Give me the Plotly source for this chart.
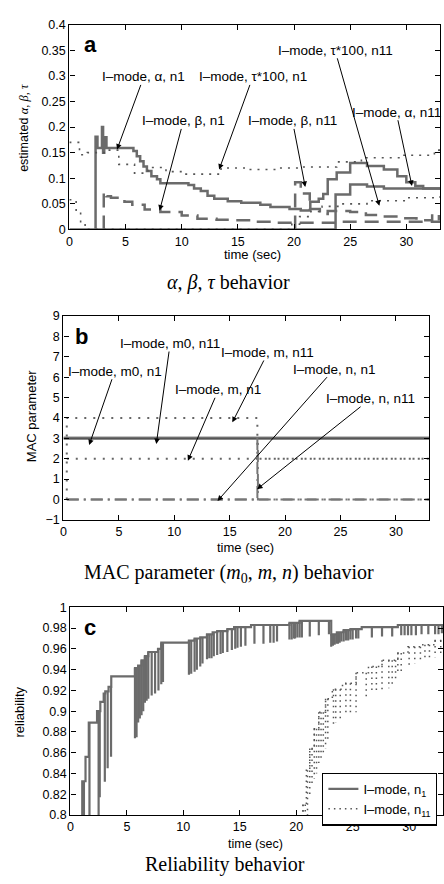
import plotly.graph_objects as go

# ---------------- data : panel a ----------------
alpha_n1_t = [2.33, 2.33, 2.5, 2.9, 3.0, 3.1, 3.3, 5.7, 6.0, 6.3, 6.6, 6.9, 7.3, 7.8, 8.1, 10.6, 11.1, 11.7,
              12.3, 12.9, 14.1, 15.3, 17.0, 17.9, 19.6, 20.6, 21.45, 22.2, 22.6, 23.0, 23.8, 25.0, 26.5,
              28.0, 29.2, 30.0, 30.8, 31.5, 33.0]
alpha_n1_v = [0.0, 0.181, 0.159, 0.2, 0.15, 0.18, 0.159, 0.153, 0.143, 0.133, 0.123, 0.114, 0.104, 0.098, 0.09,
              0.087, 0.08, 0.075, 0.066, 0.06, 0.055, 0.052, 0.048, 0.044, 0.04, 0.037, 0.054, 0.06, 0.069,
              0.098, 0.111, 0.13, 0.124, 0.117, 0.104, 0.092, 0.085, 0.08, 0.079]
alpha_n11_t = [0.0, 23.7, 25.0, 26.5, 28.0, 33.0]
alpha_n11_v = [0.0, 0.068, 0.088, 0.084, 0.08, 0.078]

beta_n1_t = [3.06, 3.06, 3.3, 3.7, 4.9, 5.6, 6.7, 8.1, 10.0, 11.4, 13.1, 14.8, 16.2, 18.0, 24.0, 33.0]
beta_n1_v = [0.0, 0.073, 0.065, 0.062, 0.054, 0.048, 0.039, 0.034, 0.027, 0.021, 0.019, 0.018, 0.015, 0.013, 0.015, 0.015]
beta_n11_t = [20.1, 20.1, 20.6, 21.4, 22.3, 23.0, 25.0, 26.4, 27.9, 29.4, 30.9, 32.3, 32.9, 33.0]
beta_n11_v = [0.0, 0.092, 0.07, 0.04, 0.03, 0.036, 0.034, 0.028, 0.025, 0.022, 0.018, 0.03, 0.02, 0.02]

tau_n1_t = [0.0, 0.9, 1.6, 3.4, 4.4, 5.8, 7.0, 8.6, 10.1, 13.5, 16.0, 18.5, 20.5, 23.8, 26.0, 29.5, 32.5, 33.0]
tau_n1_v = [0.17, 0.146, 0.15, 0.155, 0.127, 0.11, 0.121, 0.113, 0.108, 0.12, 0.117, 0.12, 0.122, 0.132,
            0.14, 0.145, 0.155, 0.155]
tau_n11_t = [0.0, 0.6, 1.0, 1.4, 19.8, 20.5, 21.5, 22.5, 24.0, 26.5, 30.0, 33.0]
tau_n11_v = [0.058, 0.035, 0.012, 0.0, 0.01, 0.025, 0.035, 0.045, 0.05, 0.056, 0.062, 0.065]

# ---------------- data : panel b ----------------
m0_n1_t = [0.0, 33.0]
m0_n1_v = [3, 3]
m0_n11_t = [0.0, 33.0]
m0_n11_v = [3, 3]
m_n1_t = [0.3, 33.0]
m_n1_v = [2, 2]
m_n11_t = [0.3, 0.3, 17.5, 17.5, 33.0]
m_n11_v = [0, 4, 4, 2, 2]
n_n1_t = [0.3, 33.0]
n_n1_v = [0, 0]
n_n11_t = [0.3, 17.5, 17.5, 17.55, 33.0]
n_n11_v = [0, 0, 3, 0, 0]

# ---------------- data : panel c ----------------
rel_n1_t = [1.05, 1.05, 1.34, 1.63, 2.36, 2.65, 2.95, 3.09, 3.38, 3.62, 5.72, 6.0, 6.3, 6.6, 6.9, 7.76, 8.05,
            10.5, 11.0, 11.5, 12.1, 12.6, 13.0, 13.9, 14.5, 16.0, 19.4, 20.3, 23.1, 23.6, 24.2, 24.8, 25.8,
            29.0, 33.0]
rel_n1_v = [0.78, 0.8325, 0.856, 0.889, 0.90, 0.909, 0.917, 0.919, 0.9235, 0.9335, 0.9415, 0.944, 0.949,
            0.953, 0.957, 0.96, 0.966, 0.968, 0.970, 0.971, 0.974, 0.976, 0.977, 0.979, 0.981, 0.983, 0.985,
            0.987, 0.974, 0.976, 0.978, 0.979, 0.981, 0.983, 0.983]
rel_n1_drop_t = [1.2, 1.69, 2.5, 2.6, 3.05, 3.3, 3.6,
                 5.72, 5.86, 6.0, 6.15, 6.3, 6.45, 6.6, 6.75, 6.9, 7.2, 7.5, 7.8, 8.05, 8.2,
                 10.5, 10.7, 11.0, 11.2, 11.5, 11.7, 12.1, 12.3, 12.5, 12.7, 13.0, 13.3, 13.5, 13.9,
                 14.3, 14.6, 14.8, 15.1, 15.5, 16.3,
                 17.1, 17.7, 18.0, 18.3, 19.4, 19.6, 19.8, 19.9, 20.1, 20.3, 20.5, 21.2, 22.0, 22.9,
                 23.1, 23.25, 23.4, 23.55, 23.7, 23.85, 24.0, 24.2, 24.4, 24.6, 24.8, 25.0, 25.3, 25.5,
                 26.7, 27.6, 28.5, 29.3, 29.6, 29.9, 30.2, 30.6, 31.1, 31.7, 32.3, 32.6, 32.9]
rel_n1_drop_v = [0.78, 0.78, 0.78, 0.817, 0.832, 0.845, 0.856,
                 0.874, 0.875, 0.889, 0.893, 0.896, 0.9, 0.908, 0.91, 0.912, 0.915, 0.917, 0.92, 0.926, 0.928,
                 0.935, 0.936, 0.938, 0.94, 0.943, 0.946, 0.95, 0.951, 0.951, 0.953, 0.954, 0.955, 0.956, 0.957,
                 0.959, 0.96, 0.961, 0.962, 0.963, 0.965,
                 0.965, 0.966, 0.966, 0.967, 0.969, 0.969, 0.97, 0.97, 0.971, 0.971, 0.971, 0.972, 0.973, 0.974,
                 0.962, 0.963, 0.964, 0.965, 0.965, 0.966, 0.967, 0.967, 0.968, 0.968, 0.969, 0.969, 0.97, 0.97,
                 0.971, 0.972, 0.972, 0.973, 0.973, 0.973, 0.973, 0.973, 0.974, 0.974, 0.974, 0.974, 0.975]

rel_n11_t = [20.3, 20.6, 20.9, 21.2, 21.6, 22.0, 22.6, 23.2, 24.1, 25.3, 26.4, 27.6, 29.0, 29.9, 31.1, 32.3, 33.0]
rel_n11_v = [0.78, 0.81, 0.843, 0.864, 0.883, 0.899, 0.912, 0.921, 0.927, 0.937, 0.943, 0.949, 0.956, 0.962,
             0.964, 0.968, 0.968]
rel_n11_drop_t = [20.4, 20.6, 20.8, 21.0, 21.2, 21.4, 21.6, 21.8, 22.0, 22.2, 22.4, 22.6, 22.8, 23.3, 23.5,
                  23.9, 24.4, 24.8, 25.3, 26.2, 26.7, 27.1, 27.6, 28.2, 28.5, 28.8, 29.0, 29.3, 30.0, 30.5,
                  31.0, 31.4, 31.8, 32.3, 32.8]
rel_n11_drop_v = [0.78, 0.78, 0.79, 0.80, 0.82, 0.83, 0.835, 0.84, 0.85, 0.855, 0.86, 0.864, 0.87, 0.885, 0.889,
                  0.893, 0.895, 0.897, 0.899, 0.912, 0.918, 0.92, 0.921, 0.922, 0.924, 0.93, 0.935, 0.937,
                  0.944, 0.946, 0.948, 0.949, 0.95, 0.952, 0.954]

x_ticks = [0, 5, 10, 15, 20, 25, 30]

FONT = "Liberation Sans, Arial, sans-serif"
SERIF = "Liberation Serif, Times New Roman, serif"
GRAY = "#6b6b6b"


def with_drops(env_t, env_v, drop_t, drop_v):
    xs = list(env_t) + [None]
    ys = list(env_v) + [None]
    for t, low in zip(drop_t, drop_v):
        top = env_v[0]
        for et, ev in zip(env_t, env_v):
            if et <= t:
                top = ev
        xs += [t, t, None]
        ys += [top, low, None]
    return xs, ys


fig = go.Figure()


def add(x, y, xa, ya, dash="solid", width=2.5, color=GRAY, name=None, legend=False):
    fig.add_trace(go.Scatter(x=x, y=y, xaxis=xa, yaxis=ya, mode="lines", line_shape="hv",
                             line=dict(color=color, width=width, dash=dash),
                             name=name, showlegend=legend, hoverinfo="skip"))


DASH = "14px,8px"
DOT = "2px,6px"
DASHDOT = "12px,5px,2px,5px"

# panel a
add(alpha_n11_t, alpha_n11_v, "x", "y")
add(alpha_n1_t, alpha_n1_v, "x", "y")
add(beta_n1_t, beta_n1_v, "x", "y", dash=DASH)
add(beta_n11_t, beta_n11_v, "x", "y", dash=DASH)
add(tau_n1_t, tau_n1_v, "x", "y", dash=DOT, width=1.6, color="#555555")
add(tau_n11_t, tau_n11_v, "x", "y", dash=DOT, width=1.6, color="#555555")

# panel b
add(m0_n1_t, m0_n1_v, "x2", "y2", width=3.5, color="#8a8a8a")
add(m0_n11_t, m0_n11_v, "x2", "y2", width=1.5, color="#555555")
add(m_n1_t, m_n1_v, "x2", "y2", dash="2px,7px", width=2, color="#666666")
add(m_n11_t, m_n11_v, "x2", "y2", dash="2px,7px", width=2, color="#666666")
add(n_n1_t, n_n1_v, "x2", "y2", dash=DASHDOT, width=2, color="#777777")
add(n_n11_t, n_n11_v, "x2", "y2", dash=DASHDOT, width=2, color="#777777")

# panel c
xs, ys = with_drops(rel_n1_t, rel_n1_v, rel_n1_drop_t, rel_n1_drop_v)
add(xs, ys, "x3", "y3", width=2.2, name="I\u2013mode, n<sub>1</sub>", legend=True)
xs, ys = with_drops(rel_n11_t, rel_n11_v, rel_n11_drop_t, rel_n11_drop_v)
add(xs, ys, "x3", "y3", dash="1.5px,4px", width=1.5, color="#555555",
    name="I\u2013mode, n<sub>11</sub>", legend=True)

# ---------------- axes ----------------
W, H = 444, 884


def dom_x(l, r):
    return [l / W, r / W]


def dom_y(top, bottom):
    return [1 - bottom / H, 1 - top / H]


axis_style = dict(showline=True, linecolor="black", linewidth=1.3, mirror="ticks", ticks="inside",
                  ticklen=5, tickwidth=1, tickcolor="black", showgrid=False, zeroline=False,
                  tickfont=dict(family=FONT, size=12.5, color="black"))

fig.update_layout(
    width=W, height=H, margin=dict(l=0, r=0, t=0, b=0),
    paper_bgcolor="white", plot_bgcolor="white",
    font=dict(family=FONT, color="black"),
    xaxis=dict(domain=dom_x(67, 441), range=[0, 33], tickvals=x_ticks, anchor="y", **axis_style),
    yaxis=dict(domain=dom_y(18, 226), range=[0, 0.4], dtick=0.05, tick0=0, anchor="x", **axis_style),
    xaxis2=dict(domain=dom_x(61, 430), range=[0, 33], tickvals=x_ticks, anchor="y2", **axis_style),
    yaxis2=dict(domain=dom_y(314, 521), range=[-1, 9], dtick=1, anchor="x2", **axis_style),
    xaxis3=dict(domain=dom_x(68, 444), range=[0, 33], tickvals=x_ticks, anchor="y3", **axis_style),
    yaxis3=dict(domain=dom_y(610, 821), range=[0.8, 1.0], dtick=0.02, tick0=0.8, anchor="x3", **axis_style),
    legend=dict(x=322 / W, y=1 - 778 / H, xanchor="left", yanchor="top", bgcolor="white",
                bordercolor="black", borderwidth=1.3, font=dict(family=FONT, size=13),
                tracegroupgap=0, itemwidth=30),
)

ann = []

# labels with arrows: (text, text centre, arrow head)
labels_a = [
    ("I\u2013mode, \u03b1, n1", (6.62, 0.298), (4.24, 0.156)),
    ("I\u2013mode, \u03c4*100, n1", (16.33, 0.298), (13.33, 0.117)),
    ("I\u2013mode, \u03b2, n1", (10.15, 0.212), (8.03, 0.037)),
    ("I\u2013mode, \u03b2, n11", (19.86, 0.212), (21.0, 0.083)),
    ("I\u2013mode, \u03c4*100, n11", (23.65, 0.35), (27.6, 0.046)),
    ("I\u2013mode, \u03b1, n11", (29.1, 0.229), (30.5, 0.085)),
]
labels_b = [
    ("I\u2013mode, m0, n1", (4.63, 6.29), (2.32, 2.67)),
    ("I\u2013mode, m0, n11", (9.63, 7.65), (8.38, 2.72)),
    ("I\u2013mode, m, n11", (18.45, 7.21), (15.24, 3.78)),
    ("I\u2013mode, m, n1", (13.99, 5.38), (11.23, 1.90)),
    ("I\u2013mode, n, n1", (24.42, 6.39), (13.9, -0.08)),
    ("I\u2013mode, n, n11", (27.72, 4.94), (17.47, 0.50)),
]
for xr, yr, labels in (("x", "y", labels_a), ("x2", "y2", labels_b)):
    for text, tp, head in labels:
        ann.append(dict(x=head[0], y=head[1], ax=tp[0], ay=tp[1], xref=xr, yref=yr, axref=xr, ayref=yr,
                        text=text, showarrow=True, arrowhead=2, arrowsize=1.1, arrowwidth=1,
                        arrowcolor="black", standoff=0, startstandoff=0, borderpad=0,
                        font=dict(family=FONT, size=13.5, color="black")))


def paper_text(px, py, text, size, family=FONT, angle=0, bold=False):
    if bold:
        text = "<b>" + text + "</b>"
    ann.append(dict(x=px / W, y=1 - py / H, xref="paper", yref="paper", text=text, showarrow=False,
                    textangle=angle, xanchor="center", yanchor="middle", borderpad=0,
                    font=dict(family=family, size=size, color="black")))


paper_text(88, 38, "a", 22, bold=True)
paper_text(79, 335, "b", 22, bold=True)
paper_text(88, 630, "c", 22, bold=True)

paper_text(252, 251, "time (sec)", 13)
paper_text(245, 549, "time (sec)", 13)
paper_text(255, 850, "time (sec)", 12.5)

paper_text(21, 123, "estimated <span style=\"font-family:Liberation Serif\"><i>\u03b1, \u03b2, \u03c4</i></span>", 12.5, angle=-90)
paper_text(29, 416, "MAC parameter", 13, angle=-90)
paper_text(17, 716, "reliability", 13, angle=-90)

paper_text(228, 280, "<i>\u03b1</i>, <i>\u03b2</i>, <i>\u03c4</i> behavior", 20, family=SERIF)
paper_text(228, 576, "MAC parameter (<i>m</i><sub>0</sub>, <i>m</i>, <i>n</i>) behavior", 20, family=SERIF)
paper_text(224, 871, "Reliability behavior", 20, family=SERIF)

fig.update_layout(annotations=ann)

fig.write_html("out.html", config={"displayModeBar": False},
               post_script="document.body.style.margin='0';document.body.style.overflow='hidden';")
